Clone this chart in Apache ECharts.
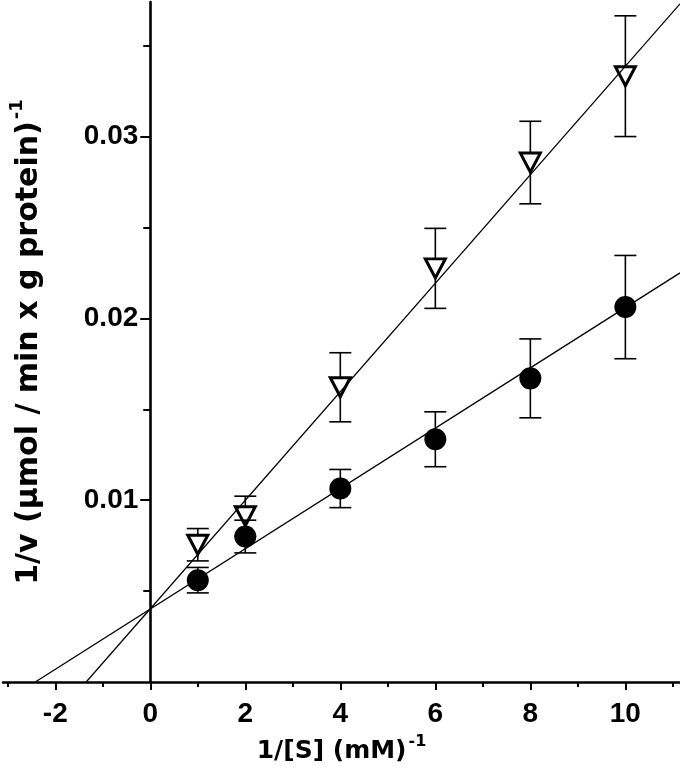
<!DOCTYPE html>
<html>
<head>
<meta charset="utf-8">
<script src="https://cdn.jsdelivr.net/npm/echarts@6/dist/echarts.min.js"></script>
<style>
  html, body { margin: 0; padding: 0; background: #fff; }
  #chart { width: 680px; height: 772px; }
</style>
</head>
<body>
<div id="chart"></div>
<script>
// ---- data ----
const substrateInv = [1, 2, 4, 6, 8, 10];                       // 1/[S] (mM^-1)
const circleV   = [0.0056, 0.0080, 0.01064, 0.01335, 0.0167, 0.02062];
const circleErr = [0.0007, 0.0009, 0.00105, 0.00151, 0.00217, 0.00284];
const triV      = [0.00755, 0.00912, 0.01621, 0.02275, 0.02857, 0.03332];
const triErr    = [0.00089, 0.0011, 0.0019, 0.0022, 0.00227, 0.00332];
// fitted lines: end points
const circleFit = [[-2.42, 0], [11.15, 0.0225]];
const triFit    = [[-1.35, 0], [11.15, 0.0373]];
// axis ticks / labels
const xMajor = [-2, 0, 2, 4, 6, 8, 10];
const xMinor = [-3, -1, 1, 3, 5, 7, 9, 11];
const yMajor = [0.01, 0.02, 0.03];
const yMinor = [0.005, 0.015, 0.025, 0.035];

const tickFont = 'Liberation Sans';
const titleFont = 'DejaVu Sans';

const pts = (xs, ys) => xs.map((x, i) => [x, ys[i]]);
const errPts = (xs, ys, es) => xs.map((x, i) => [x, ys[i] - es[i], ys[i] + es[i]]);

function errorRender(params, api) {
  const x = api.value(0);
  const lo = api.coord([x, api.value(1)]);
  const hi = api.coord([x, api.value(2)]);
  const hw = 11;
  const style = { stroke: '#000', lineWidth: 1.6 };
  return {
    type: 'group',
    children: [
      { type: 'line', shape: { x1: lo[0], y1: lo[1], x2: hi[0], y2: hi[1] }, style },
      { type: 'line', shape: { x1: lo[0] - hw, y1: lo[1], x2: lo[0] + hw, y2: lo[1] }, style },
      { type: 'line', shape: { x1: hi[0] - hw, y1: hi[1], x2: hi[0] + hw, y2: hi[1] }, style }
    ]
  };
}

const chart = echarts.init(document.getElementById('chart'), null, { renderer: 'canvas' });
const xMin = -3.1, xMax = 11.15, yMin = 0, yMax = 0.0374;
const gridLeft = 3, gridRight = 0, chartW = 680;
// the y axis sits at x = 0: shift it inwards from the grid's left edge
const yAxisOffset = -((0 - xMin) / (xMax - xMin)) * (chartW - gridLeft - gridRight);

chart.setOption({
  animation: false,
  backgroundColor: '#fff',
  grid: { left: gridLeft, right: gridRight, top: 2, bottom: 90, containLabel: false, outerBoundsMode: 'none' },
  xAxis: [
    {
      type: 'value', min: xMin, max: xMax, position: 'bottom',
      axisLine: { show: true, onZero: false, lineStyle: { color: '#000', width: 2.6 } },
      axisTick: { show: true, customValues: xMajor, length: 8, lineStyle: { color: '#000', width: 2 } },
      axisLabel: {
        customValues: xMajor, margin: 18, color: '#000',
        fontFamily: tickFont, fontWeight: 'bold', fontSize: 28,
        formatter: v => String(v)
      },
      splitLine: { show: false },
      name: '{t|1/[S] (mM)}{s|-1}',
      nameLocation: 'middle', nameGap: 52,
      nameTextStyle: {
        rich: {
          t: { fontFamily: titleFont, fontWeight: 'bold', fontSize: 25, color: '#000', lineHeight: 30, verticalAlign: 'bottom' },
          s: { fontFamily: titleFont, fontWeight: 'bold', fontSize: 16, color: '#000', lineHeight: 30, verticalAlign: 'top', padding: [0, 0, 0, 2] }
        }
      }
    },
    {
      type: 'value', min: xMin, max: xMax, position: 'bottom',
      axisLine: { show: false, onZero: false },
      axisTick: { show: true, customValues: xMinor, length: 5, lineStyle: { color: '#000', width: 2 } },
      axisLabel: { show: false },
      splitLine: { show: false }
    }
  ],
  yAxis: [
    {
      type: 'value', min: yMin, max: yMax, position: 'left', offset: yAxisOffset,
      axisLine: { show: true, onZero: false, lineStyle: { color: '#000', width: 2.6 } },
      axisTick: { show: true, customValues: yMajor, length: 10, lineStyle: { color: '#000', width: 2 } },
      axisLabel: {
        customValues: yMajor, margin: 12, color: '#000',
        fontFamily: tickFont, fontWeight: 'bold', fontSize: 28,
        formatter: v => v.toFixed(2)
      },
      splitLine: { show: false },
      name: '{t|1/v (μmol / min x g protein)}{s|-1}',
      nameLocation: 'middle', nameRotate: 90, nameGap: 106,
      nameTextStyle: {
        rich: {
          t: { fontFamily: titleFont, fontWeight: 'bold', fontSize: 30, color: '#000', lineHeight: 36, verticalAlign: 'bottom' },
          s: { fontFamily: titleFont, fontWeight: 'bold', fontSize: 18, color: '#000', lineHeight: 36, verticalAlign: 'top', padding: [0, 0, 0, 2] }
        }
      }
    },
    {
      type: 'value', min: yMin, max: yMax, position: 'left', offset: yAxisOffset,
      axisLine: { show: false, onZero: false },
      axisTick: { show: true, customValues: yMinor, length: 7, lineStyle: { color: '#000', width: 2 } },
      axisLabel: { show: false },
      splitLine: { show: false }
    }
  ],
  series: [
    {
      name: 'triErr', type: 'custom', z: 1, renderItem: errorRender,
      data: errPts(substrateInv, triV, triErr), silent: true
    },
    {
      name: 'tri', type: 'scatter', z: 2, symbol: 'triangle', symbolRotate: 180,
      symbolSize: [20, 19],
      itemStyle: { color: '#fff', borderColor: '#000', borderWidth: 3, opacity: 1 },
      data: pts(substrateInv, triV)
    },
    {
      name: 'circErr', type: 'custom', z: 3, renderItem: errorRender,
      data: errPts(substrateInv, circleV, circleErr), silent: true
    },
    {
      name: 'circ', type: 'scatter', z: 4, symbol: 'circle', symbolSize: 22,
      itemStyle: { color: '#000', opacity: 1 },
      data: pts(substrateInv, circleV)
    },
    {
      name: 'circFit', type: 'line', z: 5, symbol: 'none', silent: true,
      lineStyle: { color: '#000', width: 1.3 }, data: circleFit
    },
    {
      name: 'triFit', type: 'line', z: 5, symbol: 'none', silent: true,
      lineStyle: { color: '#000', width: 1.3 }, data: triFit
    }
  ]
});
</script>
</body>
</html>
